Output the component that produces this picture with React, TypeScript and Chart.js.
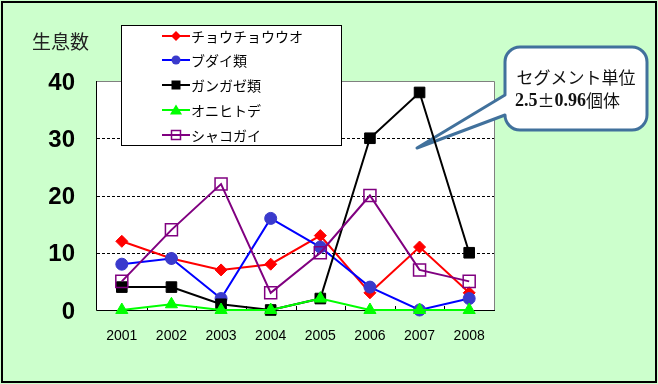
import React, { useEffect, useRef } from 'react';
import { Chart, registerables } from 'chart.js';

Chart.register(...registerables);

const years = ['2001', '2002', '2003', '2004', '2005', '2006', '2007', '2008'];
const seriesNames = ['チョウチョウウオ', 'ブダイ類', 'ガンガゼ類', 'オニヒトデ', 'シャコガイ'];
const chouchouuo = [12, 9, 7, 8, 13, 3, 11, 3];
const budai = [8, 9, 2, 16, 11, 4, 0, 2];
const gangaze = [4, 4, 1, 0, 2, 30, 38, 10];
const onihitode = [0, 1, 0, 0, 2, 0, 0, 0];
const shakogai = [5, 14, 22, 3, 10, 20, 7, 5];
const yMin = 0;
const yMax = 40;
const yStep = 10;
const yAxisTitle = '生息数';
const calloutLine1 = 'セグメント単位';
const calloutLine2Parts = ['2.5', '±', '0.96', '個体'];

const JP = '"Noto Sans CJK JP", "Noto Sans", sans-serif';

type Marker = { style: string; color: string; fill: string; size: number };
const legendMarkers: Marker[] = [
  { style: 'diamond', color: '#ff0000', fill: '#ff0000', size: 5 },
  { style: 'circle', color: '#3a3acc', fill: '#3a3acc', size: 4.5 },
  { style: 'square', color: '#000000', fill: '#000000', size: 4.5 },
  { style: 'triangle', color: '#00ff00', fill: '#00ff00', size: 5.5 },
  { style: 'square', color: '#800080', fill: '', size: 4.5 },
];
const lineColors = ['#ff0000', '#0000ff', '#000000', '#00ff00', '#800080'];

function drawMarker(ctx: CanvasRenderingContext2D, m: Marker, x: number, y: number) {
  ctx.beginPath();
  const s = m.size;
  if (m.style === 'diamond') {
    ctx.moveTo(x, y - s); ctx.lineTo(x + s, y); ctx.lineTo(x, y + s); ctx.lineTo(x - s, y); ctx.closePath();
  } else if (m.style === 'circle') {
    ctx.arc(x, y, s, 0, Math.PI * 2);
  } else if (m.style === 'square') {
    ctx.rect(x - s, y - s, 2 * s, 2 * s);
  } else if (m.style === 'triangle') {
    ctx.moveTo(x, y - s); ctx.lineTo(x + s * 1.1, y + s * 0.8); ctx.lineTo(x - s * 1.1, y + s * 0.8); ctx.closePath();
  }
  if (m.fill) {
    ctx.fillStyle = m.fill;
    ctx.fill();
  } else {
    ctx.strokeStyle = m.color;
    ctx.lineWidth = 1.5;
    ctx.stroke();
  }
}

const decorPlugin = {
  id: 'decor',
  beforeDraw(chart: any) {
    const { ctx, width, height, chartArea: a } = chart;
    ctx.save();
    ctx.fillStyle = '#ccffcc';
    ctx.fillRect(0, 0, width, height);
    ctx.strokeStyle = '#000';
    ctx.lineWidth = 2;
    ctx.strokeRect(2, 2, width - 4, height - 4);
    ctx.fillStyle = '#ffffff';
    ctx.fillRect(a.left, a.top, a.right - a.left, a.bottom - a.top);
    ctx.fillStyle = '#222';
    ctx.font = '19px ' + JP;
    ctx.textAlign = 'left';
    ctx.textBaseline = 'middle';
    ctx.fillText(yAxisTitle, 32, 42);
    ctx.restore();
  },
  beforeDatasetsDraw(chart: any) {
    const { ctx, chartArea: a, scales } = chart;
    const ys = scales.y;
    ctx.save();
    // dashed grid
    ctx.strokeStyle = '#000';
    ctx.lineWidth = 1;
    ctx.setLineDash([3, 2]);
    ys.ticks.forEach((t: any) => {
      if (t.value === yMin || t.value === yMax) return;
      const y = Math.round(ys.getPixelForValue(t.value)) + 0.5;
      ctx.beginPath();
      ctx.moveTo(a.left, y);
      ctx.lineTo(a.right, y);
      ctx.stroke();
    });
    ctx.setLineDash([]);
    // gray top/right border
    ctx.strokeStyle = '#808080';
    ctx.beginPath();
    ctx.moveTo(a.left, a.top + 0.5);
    ctx.lineTo(a.right + 0.5, a.top + 0.5);
    ctx.lineTo(a.right + 0.5, a.bottom);
    ctx.stroke();
    // black axes
    ctx.strokeStyle = '#000';
    ctx.beginPath();
    ctx.moveTo(a.left - 0.5, a.top);
    ctx.lineTo(a.left - 0.5, a.bottom + 0.5);
    ctx.lineTo(a.right + 1, a.bottom + 0.5);
    ctx.stroke();
    // inward x ticks at category boundaries
    const n = years.length;
    const w = (a.right - a.left) / n;
    for (let k = 1; k < n; k++) {
      const x = Math.round(a.left + k * w) + 0.5;
      ctx.beginPath();
      ctx.moveTo(x, a.bottom);
      ctx.lineTo(x, a.bottom - 4);
      ctx.stroke();
    }
    // callout
    const L = 505, T = 47, R = 647, B = 130, r = 15;
    const tipX = 417, tipY = 148;
    ctx.beginPath();
    ctx.moveTo(L + r, T);
    ctx.lineTo(R - r, T);
    ctx.arcTo(R, T, R, T + r, r);
    ctx.lineTo(R, B - r);
    ctx.arcTo(R, B, R - r, B, r);
    ctx.lineTo(L + r, B);
    ctx.arcTo(L, B, L, B - r, r);
    ctx.lineTo(L, 115);
    ctx.lineTo(tipX, tipY);
    ctx.lineTo(L, 95);
    ctx.lineTo(L, T + r);
    ctx.arcTo(L, T, L + r, T, r);
    ctx.closePath();
    ctx.fillStyle = '#ffffff';
    ctx.fill();
    ctx.strokeStyle = '#41719c';
    ctx.lineWidth = 3;
    ctx.lineJoin = 'round';
    ctx.stroke();
    ctx.fillStyle = '#111';
    ctx.textAlign = 'center';
    ctx.textBaseline = 'middle';
    ctx.font = '17px ' + JP;
    ctx.fillText(calloutLine1, 576, 78);
    // second line drawn in segments (full-width ±)
    ctx.textAlign = 'left';
    const serifB = 'bold 18px "Liberation Serif", serif';
    const jpB = '17px ' + JP;
    const fonts = [serifB, jpB, serifB, jpB];
    let x = 515;
    calloutLine2Parts.forEach((p, i) => {
      ctx.font = fonts[i];
      ctx.fillText(p, x, 101);
      x += ctx.measureText(p).width;
    });
    ctx.restore();
  },
  afterDatasetsDraw(chart: any) {
    const { ctx } = chart;
    ctx.save();
    ctx.fillStyle = '#ffffff';
    ctx.fillRect(121, 25, 221, 121);
    ctx.strokeStyle = '#000';
    ctx.lineWidth = 1;
    ctx.strokeRect(121.5, 25.5, 220, 120);
    ctx.font = '14px ' + JP;
    ctx.textAlign = 'left';
    ctx.textBaseline = 'middle';
    seriesNames.forEach((name, i) => {
      const y = Math.round(35.5 + i * 24.9);
      ctx.strokeStyle = lineColors[i];
      ctx.lineWidth = 2;
      ctx.beginPath();
      ctx.moveTo(162, y);
      ctx.lineTo(190, y);
      ctx.stroke();
      drawMarker(ctx, legendMarkers[i], 176, y);
      ctx.fillStyle = '#000';
      ctx.fillText(name, 191, y + 1);
    });
    ctx.restore();
  },
};

export default function App() {
  const ref = useRef<HTMLCanvasElement>(null);
  useEffect(() => {
    if (!ref.current) return;
    const common = { borderWidth: 2, tension: 0, clip: false as any, pointBorderWidth: 1 };
    const chart = new Chart(ref.current, {
      type: 'line',
      data: {
        labels: years,
        datasets: [
          { ...common, label: seriesNames[0], data: chouchouuo, borderColor: '#ff0000', backgroundColor: '#ff0000', pointBackgroundColor: '#ff0000', pointBorderColor: '#ff0000', pointStyle: 'rectRot', pointRadius: 6, order: 5 },
          { ...common, label: seriesNames[1], data: budai, borderColor: '#0000ff', backgroundColor: '#3a3acc', pointBackgroundColor: '#3a3acc', pointBorderColor: '#3a3acc', pointStyle: 'circle', pointRadius: 6, order: 4 },
          { ...common, label: seriesNames[2], data: gangaze, borderColor: '#000000', backgroundColor: '#000000', pointBackgroundColor: '#000000', pointBorderColor: '#000000', pointStyle: 'rect', pointRadius: 7.5, order: 3 },
          { ...common, label: seriesNames[3], data: onihitode, borderColor: '#00ff00', backgroundColor: '#00ff00', pointBackgroundColor: '#00ff00', pointBorderColor: '#00ff00', pointStyle: 'triangle', pointRadius: 7, order: 2 },
          { ...common, label: seriesNames[4], data: shakogai, borderColor: '#800080', backgroundColor: 'rgba(0,0,0,0)', pointBackgroundColor: 'rgba(0,0,0,0)', pointBorderColor: '#800080', pointBorderWidth: 1.5, pointStyle: 'rect', pointRadius: 8.5, order: 1 },
        ],
      },
      options: {
        animation: false,
        responsive: false,
        devicePixelRatio: 1,
        events: [],
        layout: { padding: { left: 37, top: 81, right: 164, bottom: 0 } },
        plugins: { legend: { display: false }, tooltip: { enabled: false } },
        scales: {
          x: {
            type: 'category',
            offset: true,
            grid: { display: false, drawTicks: false },
            border: { display: false },
            ticks: {
              color: '#000',
              font: { family: '"Liberation Sans", Arial, sans-serif', size: 14 },
              padding: 18,
              maxRotation: 0,
              autoSkip: false,
            },
            afterFit: (s: any) => { s.height = 74; },
          },
          y: {
            min: yMin,
            max: yMax,
            grid: { display: false, drawTicks: false },
            border: { display: false },
            ticks: {
              stepSize: yStep,
              color: '#000',
              font: { family: '"Liberation Sans", Arial, sans-serif', size: 24, weight: 'bold' },
              padding: 22,
              labelOffset: 2,
            },
            afterFit: (s: any) => { s.width = 60; },
          },
        },
      },
      plugins: [decorPlugin],
    } as any);
    return () => chart.destroy();
  }, []);
  return (
    <div style={{ position: 'absolute', left: 0, top: 0, width: 658, height: 384 }}>
      <canvas ref={ref} width={658} height={384} style={{ display: 'block' }} />
    </div>
  );
}
